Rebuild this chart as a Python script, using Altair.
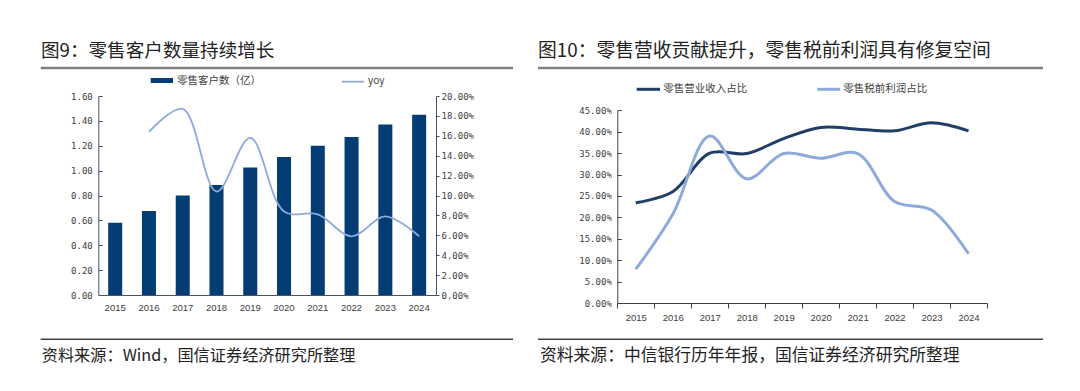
import altair as alt
import pandas as pd

# ---------------- data ----------------
years = ["2015", "2016", "2017", "2018", "2019", "2020", "2021", "2022", "2023", "2024"]
customers = [0.58, 0.675, 0.80, 0.885, 1.025, 1.11, 1.20, 1.27, 1.37, 1.45]
yoy_years = ["2016", "2017", "2018", "2019", "2020", "2021", "2022", "2023", "2024"]
yoy = [0.164, 0.187, 0.104, 0.158, 0.084, 0.081, 0.059, 0.079, 0.059]

retail_rev_share = [0.234, 0.26, 0.35, 0.349, 0.384, 0.41, 0.406, 0.402, 0.421, 0.402]
retail_profit_share = [0.079, 0.207, 0.39, 0.29, 0.349, 0.338, 0.349, 0.237, 0.217, 0.115]

left_ticks = [0, 0.2, 0.4, 0.6, 0.8, 1.0, 1.2, 1.4, 1.6]
yoy_ticks = [0, 0.02, 0.04, 0.06, 0.08, 0.10, 0.12, 0.14, 0.16, 0.18, 0.20]
right_ticks = [0, 0.05, 0.10, 0.15, 0.20, 0.25, 0.30, 0.35, 0.40, 0.45]

left_title = "图9：零售客户数量持续增长"
right_title = "图10：零售营收贡献提升，零售税前利润具有修复空间"
bar_name = "零售客户数（亿）"
yoy_name = "yoy"
series_names = ["零售营业收入占比", "零售税前利润占比"]
left_source = "资料来源：Wind，国信证券经济研究所整理"
right_source = "资料来源：中信银行历年年报，国信证券经济研究所整理"

# ---------------- style ----------------
FONT = "Noto Sans CJK SC"
MONO = "DejaVu Sans Mono"
BAR_C = "#033d73"
YOY_C = "#8eaadc"
DARK_C = "#1f3f66"
LIGHT_C = "#8eaadb"
LABEL_C = "#404040"
W1, W2, H = 517, 547, 372
INTERP = "catmull-rom"

one = pd.DataFrame({"_": [0]})


def text(x, y, s, size, color="#222222", weight="normal"):
    return alt.Chart(one).mark_text(
        align="left", baseline="middle", font=FONT, fontSize=size,
        color=color, fontWeight=weight
    ).encode(x=alt.value(x), y=alt.value(y), text=alt.value(s))


def hrule(x1, x2, y, color, width):
    return alt.Chart(one).mark_rule(color=color, strokeWidth=width).encode(
        x=alt.value(x1), x2=alt.value(x2), y=alt.value(y))


# ---------------- left panel ----------------
bar_df = pd.DataFrame({"year": years, "v": customers})
yoy_df = pd.DataFrame({"year": yoy_years, "v": yoy})

xl_scale = alt.Scale(type="band", domain=years, range=[90.3, 428],
                     paddingInner=0.585, paddingOuter=0.2925)
yl_range = [287, 88]

bars = alt.Chart(bar_df).mark_bar(color=BAR_C).encode(
    x=alt.X("year:O", scale=xl_scale,
            axis=alt.Axis(title=None, orient="bottom", offset=-(H - 287), labelAngle=0,
                          ticks=False, domainColor="#44546a", domainWidth=1,
                          labelFont="Liberation Sans", labelFontSize=9.5,
                          labelColor=LABEL_C, labelPadding=7, grid=False)),
    y=alt.Y("v:Q", scale=alt.Scale(domain=[0, 1.6], range=yl_range, nice=False, zero=True),
            axis=alt.Axis(title=None, orient="left", offset=-90.3, values=left_ticks,
                          format=".2f", ticks=False, labelPadding=6, grid=False,
                          domainColor="#44546a", labelFont=MONO,
                          labelFontSize=9, labelColor=LABEL_C)),
)

bar_ticks = alt.Chart(bar_df).mark_bar(opacity=0).encode(
    x=alt.X("year:O", scale=xl_scale),
    y=alt.Y("v:Q", scale=alt.Scale(domain=[0, 1.6], range=yl_range, nice=False, zero=True),
            axis=alt.Axis(title=None, orient="right", offset=-(W1 - 90.3), values=left_ticks,
                          labels=False, domain=False, ticks=True, tickSize=4,
                          tickColor="#44546a", grid=False)),
)

yoy_line = alt.Chart(yoy_df).mark_line(color=YOY_C, strokeWidth=1.8, interpolate=INTERP).encode(
    x=alt.X("year:O", scale=xl_scale),
    y=alt.Y("v:Q", scale=alt.Scale(domain=[0, 0.2], range=yl_range, nice=False, zero=True),
            axis=alt.Axis(title=None, orient="right", offset=-(W1 - 428), values=yoy_ticks,
                          format=".2%", ticks=True, tickSize=3, labelPadding=2, grid=False,
                          domainColor="#44546a", tickColor="#44546a",
                          labelFont=MONO, labelFontSize=9, labelColor=LABEL_C)),
)

legend_rect = alt.Chart(one).mark_rect(color=BAR_C).encode(
    x=alt.value(142.7), x2=alt.value(165), y=alt.value(70), y2=alt.value(75))

left = alt.layer(
    bars, bar_ticks, yoy_line,
    text(33, 42.5, left_title, 18.6),
    hrule(32.7, 505, 60, "#7f7f7f", 2.5),
    legend_rect,
    text(169, 72.5, bar_name, 10.5, "#404040"),
    hrule(334, 356, 73.7, YOY_C, 1.8),
    text(360, 73, yoy_name, 10, "#404040"),
    hrule(32.7, 505, 331.3, "#404040", 1.5),
    text(33.7, 347.5, left_source, 16.2, "#222222"),
).resolve_scale(y="independent").properties(width=W1, height=H)

# ---------------- right panel ----------------
share_df = pd.DataFrame({
    "year": years * 2,
    "series": [series_names[0]] * len(years) + [series_names[1]] * len(years),
    "v": retail_rev_share + retail_profit_share,
})

xr_scale = alt.Scale(type="band", domain=years, range=[92.3, 462],
                     paddingInner=0, paddingOuter=0)
yr_range = [295, 102.3]

lines = alt.Chart(share_df).mark_line(strokeWidth=3, interpolate=INTERP).encode(
    x=alt.X("year:O", scale=xr_scale,
            axis=alt.Axis(title=None, orient="bottom", offset=-(H - 295), labelAngle=0,
                          ticks=True, tickBand="extent", tickSize=5, tickColor="#404040",
                          domainColor="#404040", labelFont="Liberation Sans",
                          labelFontSize=9.5, labelColor=LABEL_C, labelPadding=4, grid=False)),
    y=alt.Y("v:Q", scale=alt.Scale(domain=[0, 0.45], range=yr_range, nice=False, zero=True),
            axis=alt.Axis(title=None, orient="left", offset=-92.3, values=right_ticks,
                          format=".2%", ticks=False, labelPadding=6, grid=False,
                          domainColor="#404040", labelFont=MONO,
                          labelFontSize=9, labelColor=LABEL_C)),
    color=alt.Color("series:N", scale=alt.Scale(domain=series_names, range=[DARK_C, LIGHT_C]),
                    legend=None),
    order=alt.Order("series:N"),
)

r_ticks = alt.Chart(share_df).mark_point(opacity=0).encode(
    x=alt.X("year:O", scale=xr_scale),
    y=alt.Y("v:Q", scale=alt.Scale(domain=[0, 0.45], range=yr_range, nice=False, zero=True),
            axis=alt.Axis(title=None, orient="right", offset=-(W2 - 92.3), values=right_ticks,
                          labels=False, domain=False, ticks=True, tickSize=4,
                          tickColor="#404040", grid=False)),
)

right = alt.layer(
    lines, r_ticks,
    text(13, 42.5, right_title, 18.8),
    hrule(13, 518, 60, "#7f7f7f", 2.5),
    hrule(111.7, 135, 81.3, DARK_C, 3),
    text(138.3, 81, series_names[0], 10.5, "#404040"),
    hrule(292.3, 315, 81.3, LIGHT_C, 3),
    text(318.3, 81, series_names[1], 10.5, "#404040"),
    hrule(13, 518, 331.3, "#404040", 1.5),
    text(15, 347.5, right_source, 16.8, "#222222"),
).resolve_scale(y="independent").properties(width=W2, height=H)

chart = alt.hconcat(left, right, spacing=0).properties(padding=0).configure(
    font=FONT
).configure_view(strokeWidth=0)

chart.save("out.html", embed_options={"renderer": "svg", "actions": False})
